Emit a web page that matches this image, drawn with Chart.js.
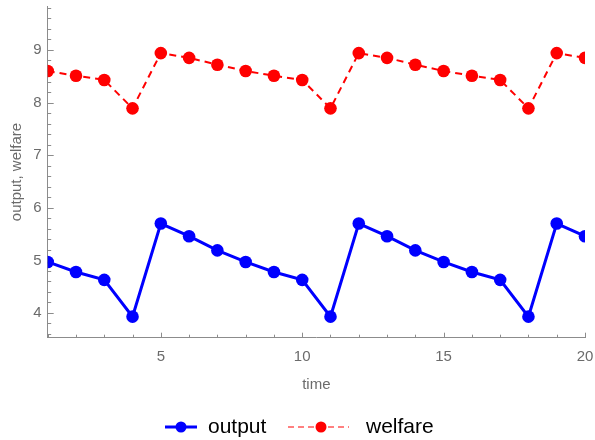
<!DOCTYPE html>
<html>
<head>
<meta charset="utf-8">
<script src="https://cdn.jsdelivr.net/npm/chart.js@4/dist/chart.umd.min.js"></script>
<style>
html, body { margin: 0; padding: 0; background: #fff; }
</style>
</head>
<body>
<canvas id="myChart" width="595" height="440"></canvas>
<script>
/* Data */
const times = [1, 2, 3, 4, 5, 6, 7, 8, 9, 10, 11, 12, 13, 14, 15, 16, 17, 18, 19, 20];
const output = [4.97, 4.78, 4.63, 3.93, 5.70, 5.46, 5.19, 4.97, 4.78, 4.63,
                3.93, 5.70, 5.46, 5.19, 4.97, 4.78, 4.63, 3.93, 5.70, 5.46];
const welfare = [8.60, 8.51, 8.43, 7.89, 8.94, 8.85, 8.72, 8.60, 8.51, 8.43,
                 7.89, 8.94, 8.85, 8.72, 8.60, 8.51, 8.43, 7.89, 8.94, 8.85];

const xTicks = [5, 10, 15, 20];
const yTicks = [4, 5, 6, 7, 8, 9];
const xMinorTicks = [1, 2, 3, 4, 6, 7, 8, 9, 11, 12, 13, 14, 16, 17, 18, 19];
const yMinorTicks = [3.6, 3.8, 4.2, 4.4, 4.6, 4.8, 5.2, 5.4, 5.6, 5.8, 6.2, 6.4, 6.6, 6.8,
                     7.2, 7.4, 7.6, 7.8, 8.2, 8.4, 8.6, 8.8, 9.2, 9.4, 9.6, 9.8];

const axisColor = '#8c8c8c';
const labelColor = '#6b6b6b';
const fontFamily = '"Liberation Sans", Arial, sans-serif';

/* Inward tick marks, like the original */
const tickMarks = {
    id: 'tickMarks',
    beforeDatasetsDraw(chart) {
        const ctx = chart.ctx;
        const xs = chart.scales.x;
        const ys = chart.scales.y;
        const bottom = chart.chartArea.bottom;
        const left = chart.chartArea.left;
        ctx.save();
        ctx.strokeStyle = axisColor;
        ctx.lineWidth = 1;
        ctx.beginPath();
        for (const v of xTicks) {
            const px = Math.round(xs.getPixelForValue(v)) + 0.5;
            ctx.moveTo(px, bottom);
            ctx.lineTo(px, bottom - 5);
        }
        for (const v of xMinorTicks) {
            const px = Math.round(xs.getPixelForValue(v)) + 0.5;
            ctx.moveTo(px, bottom);
            ctx.lineTo(px, bottom - 3);
        }
        for (const v of yTicks) {
            const py = Math.round(ys.getPixelForValue(v)) + 0.5;
            ctx.moveTo(left, py);
            ctx.lineTo(left + 6, py);
        }
        for (const v of yMinorTicks) {
            const py = Math.round(ys.getPixelForValue(v)) + 0.5;
            ctx.moveTo(left, py);
            ctx.lineTo(left + 3.5, py);
        }
        ctx.stroke();
        ctx.restore();
    }
};

/* Legend: line + marker swatches at the bottom */
const lineLegend = {
    id: 'lineLegend',
    afterDraw(chart) {
        const ctx = chart.ctx;
        const y = 427;
        const items = [
            {ds: chart.data.datasets[0], x0: 165, x1: 197, dot: 181, text: 208, lineColor: '#0000ff', width: 3, dash: []},
            {ds: chart.data.datasets[1], x0: 288, x1: 349, dot: 321, text: 366, lineColor: '#ff8080', width: 2, dash: [6, 4]}
        ];
        ctx.save();
        for (const it of items) {
            ctx.strokeStyle = it.lineColor;
            ctx.lineWidth = it.width;
            ctx.setLineDash(it.dash);
            ctx.beginPath();
            ctx.moveTo(it.x0, y);
            ctx.lineTo(it.x1, y);
            ctx.stroke();
            ctx.setLineDash([]);
            ctx.fillStyle = it.ds.pointBackgroundColor;
            ctx.beginPath();
            ctx.arc(it.dot, y, 5.5, 0, Math.PI * 2);
            ctx.fill();
            ctx.fillStyle = '#000';
            ctx.font = '21px ' + fontFamily;
            ctx.textBaseline = 'middle';
            ctx.fillText(it.ds.label, it.text, y);
        }
        ctx.restore();
    }
};

function initChart() {
    const ctx = document.getElementById('myChart').getContext('2d');

    new Chart(ctx, {
        type: 'line',
        data: {
            datasets: [{
                label: 'output',
                data: times.map((t, i) => ({x: t, y: output[i]})),
                borderColor: '#0000ff',
                backgroundColor: '#0000ff',
                pointBackgroundColor: '#0000ff',
                pointBorderColor: '#0000ff',
                borderWidth: 3,
                pointRadius: 6.3,
                pointBorderWidth: 0,
                tension: 0
            },
            {
                label: 'welfare',
                data: times.map((t, i) => ({x: t, y: welfare[i]})),
                borderColor: '#ff0000',
                backgroundColor: '#ff0000',
                pointBackgroundColor: '#ff0000',
                pointBorderColor: '#ff0000',
                borderWidth: 2,
                borderDash: [7, 5],
                pointRadius: 6.3,
                pointBorderWidth: 0,
                tension: 0
            }]
        },
        options: {
            responsive: false,
            animation: false,
            events: [],
            layout: {
                padding: {top: 5, right: 10, left: 0, bottom: 45}
            },
            plugins: {
                legend: {display: false},
                tooltip: {enabled: false}
            },
            scales: {
                x: {
                    type: 'linear',
                    min: 1,
                    max: 20,
                    grid: {display: false, drawTicks: false},
                    border: {display: true, color: axisColor, width: 1},
                    afterBuildTicks: (scale) => {
                        scale.ticks = xTicks.map(v => ({value: v}));
                    },
                    afterFit: (scale) => {
                        scale.height = 57.3;
                        scale.paddingLeft = 0;
                        scale.paddingRight = 0;
                    },
                    ticks: {
                        color: labelColor,
                        font: {family: fontFamily, size: 15},
                        padding: 10,
                        autoSkip: false,
                        maxRotation: 0
                    },
                    title: {
                        display: true,
                        text: 'time',
                        color: labelColor,
                        font: {family: fontFamily, size: 15},
                        padding: {top: 0, bottom: 1}
                    }
                },
                y: {
                    type: 'linear',
                    min: 3.53,
                    max: 9.83,
                    grid: {display: false, drawTicks: false},
                    border: {display: true, color: axisColor, width: 1},
                    afterBuildTicks: (scale) => {
                        scale.ticks = yTicks.map(v => ({value: v}));
                    },
                    afterFit: (scale) => {
                        scale.width = 47.7;
                        scale.paddingTop = 0;
                        scale.paddingBottom = 0;
                    },
                    ticks: {
                        color: labelColor,
                        font: {family: fontFamily, size: 15},
                        padding: 6,
                        autoSkip: false
                    },
                    title: {
                        display: true,
                        text: 'output, welfare',
                        color: labelColor,
                        font: {family: fontFamily, size: 15},
                        padding: {top: 8, bottom: 0}
                    }
                }
            }
        },
        plugins: [tickMarks, lineLegend]
    });
}

initChart();
</script>
</body>
</html>
